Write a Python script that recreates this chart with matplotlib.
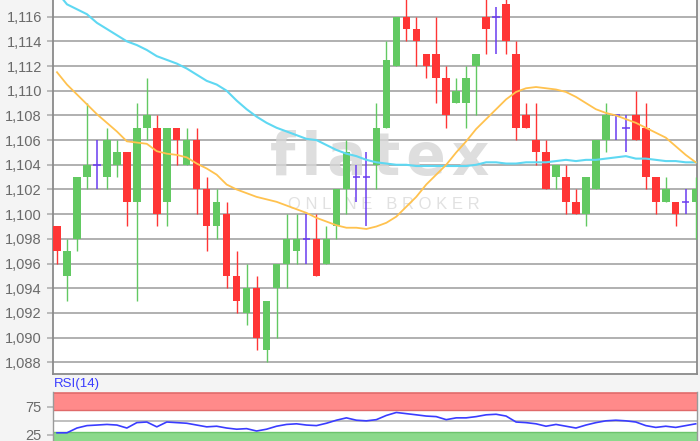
import numpy as np
import matplotlib
matplotlib.use("Agg")
import matplotlib.pyplot as plt
from matplotlib.ticker import FuncFormatter

plt.rcParams['font.family'] = ['Liberation Sans', 'DejaVu Sans']

# daily candles, oldest first
opens = [1.099, 1.095, 1.098, 1.103, 1.104, 1.103, 1.104, 1.105, 1.101, 1.107,
         1.107, 1.101, 1.107, 1.104, 1.106, 1.102, 1.099, 1.100, 1.095, 1.092,
         1.094, 1.089, 1.094, 1.096, 1.097, 1.098, 1.098, 1.096, 1.099, 1.102,
         1.103, 1.103, 1.104, 1.107, 1.112, 1.116, 1.115, 1.113, 1.113, 1.111,
         1.109, 1.109, 1.112, 1.116, 1.116, 1.117, 1.113, 1.108, 1.106, 1.105,
         1.103, 1.103, 1.101, 1.100, 1.102, 1.106, 1.108, 1.107, 1.108, 1.107,
         1.103, 1.101, 1.101, 1.101, 1.101]
closes = [1.097, 1.097, 1.103, 1.104, 1.104, 1.106, 1.105, 1.101, 1.107, 1.108,
          1.100, 1.107, 1.106, 1.106, 1.102, 1.099, 1.101, 1.095, 1.093, 1.094,
          1.090, 1.093, 1.096, 1.098, 1.098, 1.098, 1.095, 1.098, 1.102, 1.105,
          1.103, 1.103, 1.107, 1.1125, 1.116, 1.115, 1.114, 1.112, 1.111, 1.108,
          1.110, 1.111, 1.113, 1.115, 1.116, 1.114, 1.107, 1.107, 1.105, 1.102,
          1.104, 1.101, 1.100, 1.103, 1.106, 1.108, 1.108, 1.107, 1.106, 1.103,
          1.101, 1.102, 1.100, 1.101, 1.102]
highs = [1.099, 1.098, 1.103, 1.109, 1.106, 1.107, 1.106, 1.105, 1.109, 1.111,
         1.108, 1.107, 1.107, 1.107, 1.107, 1.103, 1.102, 1.101, 1.097, 1.096,
         1.095, 1.093, 1.096, 1.100, 1.100, 1.100, 1.100, 1.099, 1.102, 1.106,
         1.104, 1.105, 1.109, 1.114, 1.116, 1.118, 1.116, 1.113, 1.116, 1.112,
         1.111, 1.112, 1.113, 1.118, 1.1168, 1.118, 1.114, 1.109, 1.109, 1.106,
         1.104, 1.104, 1.102, 1.103, 1.106, 1.109, 1.108, 1.108, 1.110, 1.109,
         1.103, 1.103, 1.101, 1.102, 1.103]
lows = [1.096, 1.093, 1.097, 1.102, 1.102, 1.102, 1.103, 1.099, 1.093, 1.106,
        1.099, 1.099, 1.104, 1.104, 1.100, 1.097, 1.098, 1.094, 1.092, 1.091,
        1.089, 1.088, 1.090, 1.094, 1.096, 1.096, 1.095, 1.096, 1.098, 1.100,
        1.101, 1.099, 1.102, 1.107, 1.112, 1.114, 1.112, 1.111, 1.109, 1.107,
        1.109, 1.107, 1.108, 1.113, 1.113, 1.113, 1.106, 1.107, 1.104, 1.102,
        1.102, 1.100, 1.100, 1.099, 1.102, 1.105, 1.106, 1.105, 1.106, 1.102,
        1.100, 1.101, 1.099, 1.100, 1.098]

ma_slow = [1.1180, 1.1170, 1.1166, 1.1162, 1.1155, 1.1150, 1.1145, 1.1140, 1.1137, 1.1133,
           1.1128, 1.1125, 1.1122, 1.1118, 1.1113, 1.1108, 1.1105, 1.1100, 1.1092, 1.1085,
           1.1079, 1.1074, 1.1070, 1.1067, 1.1064, 1.1061, 1.1060, 1.1056, 1.1052, 1.1049,
           1.1047, 1.1044, 1.1042, 1.1041, 1.1040, 1.1040, 1.1039, 1.1039, 1.1039, 1.1039,
           1.1039, 1.1039, 1.1040, 1.1042, 1.1042, 1.1041, 1.1041, 1.1042, 1.1042, 1.1042,
           1.1043, 1.1044, 1.1043, 1.1044, 1.1044, 1.1045, 1.1046, 1.1047, 1.1045, 1.1045,
           1.1044, 1.1043, 1.1043, 1.1042, 1.1042]
ma_fast = [1.1115, 1.1105, 1.1097, 1.1089, 1.1081, 1.1074, 1.1067, 1.1059, 1.1058, 1.1057,
           1.1051, 1.1049, 1.1048, 1.1046, 1.1041, 1.1037, 1.1032, 1.1024, 1.1020, 1.1017,
           1.1014, 1.1012, 1.1010, 1.1007, 1.1004, 1.1001, 1.0997, 1.0994, 1.0991, 1.0989,
           1.0989, 1.0988, 1.0990, 1.0993, 1.0998, 1.1006, 1.1014, 1.1024, 1.1032, 1.1040,
           1.1050, 1.1059, 1.1069, 1.1077, 1.1085, 1.1093, 1.1099, 1.1102, 1.1103, 1.1102,
           1.1101, 1.1099, 1.1095, 1.1090, 1.1085, 1.1082, 1.1080, 1.1077, 1.1074, 1.1070,
           1.1066, 1.1062, 1.1055, 1.1048, 1.1042]

rsi = [28.6, 28.6, 37.1, 41.4, 42.4, 43.5, 42.4, 37.1, 46.7, 47.8,
       39.2, 47.8, 46.7, 45.6, 42.4, 39.2, 40.3, 37.1, 35.0, 36.0,
       31.8, 35.0, 40.3, 43.5, 44.6, 42.4, 41.4, 45.6, 51.0, 55.2,
       51.0, 49.9, 52.0, 59.5, 64.8, 62.7, 60.6, 58.4, 57.4, 52.0,
       55.2, 55.2, 57.4, 60.6, 61.6, 58.4, 47.8, 46.7, 44.6, 40.3,
       43.5, 40.3, 37.1, 42.4, 46.7, 49.9, 51.0, 49.9, 47.8, 41.4,
       38.2, 40.3, 38.2, 41.4, 44.6]

price_ticks = np.arange(1.088, 1.1165, 0.002)
rsi_ticks = [25, 75]

UP = '#62c962'
DOWN = '#ff3535'
FLAT = '#6a3cf0'

fig = plt.figure(figsize=(7, 4.41), dpi=100, facecolor='#f4f4f4')
ax = fig.add_axes([53 / 700, 67 / 441, 644 / 700, 374 / 441])
ax_rsi = fig.add_axes([53 / 700, 0, 644 / 700, 48.7 / 441])

o = np.array(opens); c = np.array(closes)
h = np.array(highs); l = np.array(lows)
x = np.arange(len(o))
width = 0.75
up = c > o
down = c < o
flat = c == o

for mask, col in [(up, UP), (down, DOWN)]:
    ax.vlines(x[mask], l[mask], h[mask], color=col, linewidth=1, zorder=3)
    ax.bar(x[mask], np.abs(c - o)[mask], bottom=np.minimum(o, c)[mask],
           width=width, color=col, linewidth=0, zorder=4)
ax.vlines(x[flat], l[flat], h[flat], color=FLAT, linewidth=1.1, zorder=3)
ax.hlines(c[flat], x[flat] - width / 2, x[flat] + width / 2, color=FLAT, linewidth=1.1, zorder=4)

ax.plot(x, ma_slow, color='#5fd8f2', linewidth=1.5, zorder=5)
ax.plot(x, ma_fast, color='#ffc24f', linewidth=1.3, zorder=5)

# watermark
ax.text(0.508, 0.575, 'f\u200al\u200aa\u200at\u200ae\u200ax', transform=ax.transAxes,
        ha='center', va='center', fontsize=42, fontweight='bold', color='#d6d6d6',
        alpha=0.8, family=['DejaVu Sans'], zorder=2)
ax.text(0.514, 0.452, 'O N L I N E   B R O K E R', transform=ax.transAxes, ha='center',
        va='center', fontsize=12, color='#dadada', alpha=0.8, zorder=2)

ax.set_xlim(-0.4, 64.13)
ax.set_ylim(1.08705, 1.11735)
ax.set_yticks(price_ticks)
ax.yaxis.set_major_formatter(FuncFormatter(lambda v, p: f"{v:.3f}".replace('.', ',')))
ax.set_xticks([])
ax.grid(axis='y', color='#b0b0b0', linewidth=1.4, zorder=0)
ax.set_axisbelow(True)
ax.tick_params(axis='y', direction='out', length=4, width=1.2, color='#b0b0b0',
               labelcolor='#6a6a6a', labelsize=10.5, pad=4)
ax.spines['top'].set_visible(False)
for s in ['left', 'bottom', 'right']:
    ax.spines[s].set_color('#8a8a8a')
    ax.spines[s].set_linewidth(1.3)

# RSI panel
ax_rsi.axhspan(70, 100, facecolor='#ff8a8a', edgecolor='none', zorder=0)
ax_rsi.axhline(100, color='#e06a6a', linewidth=1.2, zorder=1)
ax_rsi.axhline(70, color='#e06a6a', linewidth=1.0, zorder=1)
ax_rsi.axhspan(0, 30, facecolor='#8bd98b', edgecolor='none', zorder=0)
ax_rsi.axhline(30, color='#6cc46c', linewidth=1.0, zorder=1)
ax_rsi.axhline(50, color='#b4b4b4', linewidth=1.2, zorder=1)
ax_rsi.plot(x, rsi, color='#3a3cff', linewidth=1.2, zorder=3)
ax_rsi.set_xlim(-0.4, 64.13)
ax_rsi.set_ylim(14, 100.7)
ax_rsi.set_yticks(rsi_ticks)
ax_rsi.set_xticks([])
ax_rsi.tick_params(axis='y', direction='out', length=4, width=1.2, color='#b4b4b4',
                   labelcolor='#6a6a6a', labelsize=10.5, pad=4)
for s in ['top', 'bottom']:
    ax_rsi.spines[s].set_visible(False)
for s in ['left', 'right']:
    ax_rsi.spines[s].set_color('#9a9a9a')
    ax_rsi.spines[s].set_linewidth(1.0)

fig.text(54 / 700, 1 - 384.5 / 441, 'RSI(14)', ha='left', va='center',
         fontsize=9.5, color='#3a3cff')

fig.savefig('out.png', dpi=100, facecolor=fig.get_facecolor())
